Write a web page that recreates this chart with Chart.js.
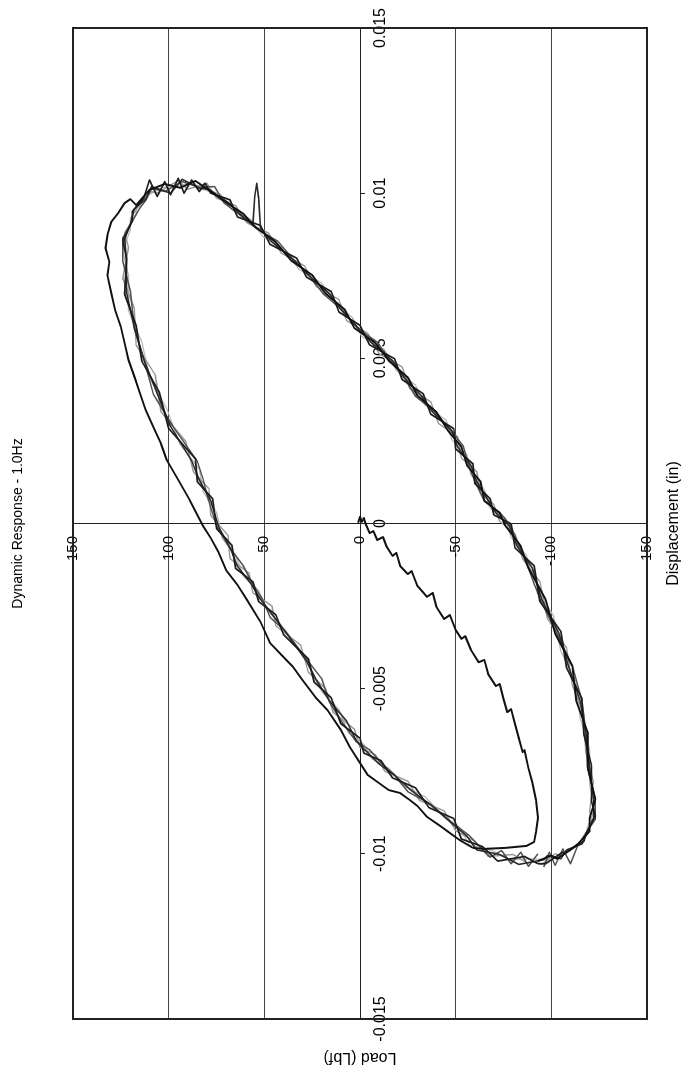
<!DOCTYPE html>
<html>
<head>
<meta charset="utf-8">
<script src="https://cdn.jsdelivr.net/npm/chart.js@4.4.1/dist/chart.umd.min.js"></script>
<style>
html,body{margin:0;padding:0;background:#fff;overflow:hidden;width:684px;height:1071px;}
#wrap{position:absolute;left:0;top:0;width:1071px;height:684px;transform-origin:0 0;transform:translate(0px,1071px) rotate(-90deg);background:#fff;}
canvas{display:block;}
</style>
</head>
<body>
<div id="wrap"><canvas id="c" width="1071" height="684"></canvas></div>
<script>
// ---------- tick values / labels ----------
const dispTicks = [-0.015, -0.01, -0.005, 0, 0.005, 0.01, 0.015];
const dispTickLabels = ['-0.015', '-0.01', '-0.005', '0', '0.005', '0.01', '0.015'];
const loadTicks = [-150, -100, -50, 0, 50, 100, 150];
const loadTickLabels = ['-150', '-100', '-50', '0', '50', '100', '150'];

// ---------- initial ramp from rest ----------
const rampDisp = [0.00002,0.00020,0.00005,0.00017,-0.00002,-0.00029,-0.00023,-0.00050,-0.00041,-0.00071,
  -0.00098,-0.00089,-0.00129,-0.00153,-0.00144,-0.00189,-0.00222,-0.00210,-0.00253,-0.00289,
  -0.00277,-0.00322,-0.00349,-0.00341,-0.00383,-0.00420,-0.00413,-0.00456,-0.00492,-0.00486,
  -0.00531,-0.00571,-0.00562,-0.00607,-0.00649,-0.00692,-0.00686,-0.00740,-0.00783,-0.00837,
  -0.00891,-0.00934,-0.00964,-0.00976,-0.00982,-0.00985,-0.00982];
const rampLoad = [1,0,-1,-2,-3,-5,-7,-9,-12,-14,
  -17,-19,-21,-25,-27,-30,-35,-38,-40,-44,
  -47,-50,-53,-55,-58,-62,-65,-67,-71,-73,
  -75,-77,-79,-81,-83,-85,-86,-88,-90,-92,
  -93,-92,-91,-87,-76,-65,-59];

// ---------- cycle 1 ----------
const cycle1Disp = [-0.00982,-0.00958,-0.00937,-0.00916,-0.00888,-0.00855,-0.00837,-0.00816,-0.00807,-0.00782,
  -0.00761,-0.00716,-0.00680,-0.00625,-0.00565,-0.00528,-0.00474,-0.00434,-0.00398,-0.00362,
  -0.00298,-0.00232,-0.00186,-0.00141,-0.00086,-0.00044,-0.00008,0.00071,0.00132,0.00192,
  0.00241,0.00292,0.00344,0.00395,0.00446,0.00495,0.00546,0.00595,0.00646,0.00698,
  0.00752,0.00792,0.00834,0.00873,0.00913,0.00943,0.00970,0.00982,0.00964,0.01010,
  0.01028,0.01016,0.01037,0.01009,
  0.00972,0.00938,0.00899,0.00852,0.00796,0.00752,0.00696,0.00648,0.00592,0.00547,
  0.00493,0.00442,0.00387,0.00337,0.00281,0.00232,0.00175,0.00127,0.00069,0.00032,
  -0.00007,-0.00068,-0.00134,-0.00230,-0.00333,-0.00432,-0.00536,-0.00632,-0.00739,-0.00835,
  -0.00892,-0.00932,-0.00970,-0.00988,-0.01015,-0.01005,-0.01022];
const cycle1Load = [-59,-52,-47,-42,-35,-30,-26,-21,-15,-9,
  -4,1,5,10,17,23,30,35,41,47,
  52,59,64,70,74,78,82,89,95,101,
  104,108,112,115,118,121,123,125,128,130,
  132,131,133,132,130,126,123,120,117,110,
  102,94,86,79,
  70,61,55,44,36,25,18,8,3,-8,
  -15,-25,-30,-40,-46,-53,-56,-63,-65,-73,
  -76,-84,-88,-97,-102,-111,-113,-119,-119,-123,
  -120,-120,-114,-110,-103,-100,-93];

// ---------- cycle 2 ----------
const cycle2Disp = [-0.01030,-0.01008,-0.01022,-0.00978,-0.00955,-0.00893,-0.00860,-0.00800,-0.00770,-0.00718,
  -0.00695,-0.00650,-0.00606,-0.00528,-0.00480,-0.00410,-0.00336,-0.00276,-0.00236,-0.00176,
  -0.00136,-0.00066,-0.00015,0.00075,0.00126,0.00196,0.00288,0.00399,0.00491,0.00599,
  0.00694,0.00802,0.00856,0.00915,0.00945,
  0.00985,0.01040,0.00990,0.01035,0.00995,0.01045,0.01000,0.01040,0.01005,0.01030,0.01000,
  0.00980,0.00928,0.00902,0.00845,0.00803,0.00746,0.00702,0.00640,0.00600,0.00541,
  0.00499,0.00436,0.00393,0.00331,0.00287,0.00226,0.00181,0.00121,0.00075,0.00026,
  -0.00001,-0.00074,-0.00128,-0.00236,-0.00327,-0.00438,-0.00530,-0.00638,-0.00733,-0.00841,
  -0.00886,-0.00940,-0.00962,-0.00998,-0.00995,-0.01030,-0.01030];
const cycle2Load = [-93,-86,-72,-64,-53,-49,-36,-29,-17,-11,
  -2,0,10,15,24,27,40,44,53,56,
  65,67,75,77,85,86,100,105,114,117,
  123,122,124,119,119,
  113,110,106,102,99,95,92,88,84,81,78,
  68,64,52,47,33,28,15,11,0,-5,
  -18,-22,-33,-37,-49,-50,-59,-60,-68,-70,
  -79,-81,-91,-94,-105,-108,-116,-117,-121,-121,
  -123,-118,-117,-107,-106,-97,-93];

// ---------- cycle 3 ----------
const cycle3Disp = [-0.01000,-0.01038,-0.00995,-0.01030,-0.00990,-0.01010,-0.00980,
  -0.00944,-0.00905,-0.00850,-0.00812,-0.00760,-0.00731,
  -0.00685,-0.00660,-0.00596,-0.00540,-0.00470,-0.00418,-0.00326,-0.00284,-0.00228,-0.00185,
  -0.00128,-0.00075,-0.00007,0.00067,0.00134,0.00188,0.00296,0.00391,0.00499,0.00591,
  0.00702,0.00794,0.00864,0.00905,0.00955,0.00978,0.01015,0.01005,0.01035,0.01018,
  0.01020,
  0.00970,0.00940,0.00892,0.00855,0.00793,0.00754,0.00694,0.00650,0.00590,0.00549,
  0.00491,0.00444,0.00385,0.00339,0.00279,0.00234,0.00173,0.00129,0.00067,0.00034,
  -0.00009,-0.00066,-0.00136,-0.00228,-0.00335,-0.00430,-0.00538,-0.00630,-0.00741,-0.00833,
  -0.00895,-0.00930,
  -0.00972,-0.01030,-0.00985,-0.01035,-0.00995,-0.01040];
const cycle3Load = [-93,-88,-84,-79,-74,-68,-63,
  -57,-48,-37,-25,-18,-12,
  -5,2,10,16,20,27,39,47,51,56,
  61,68,75,79,82,85,98,108,113,118,
  120,124,124,120,115,112,109,102,93,84,
  76,
  71,64,54,43,34,27,19,10,1,-9,
  -16,-23,-29,-39,-48,-54,-57,-60,-65,-73,
  -79,-83,-88,-94,-103,-111,-116,-118,-119,-123,
  -123,-119,
  -114,-110,-106,-102,-99,-96];

// ---------- cycle 4 ----------
const cycle4Disp = [-0.01030,-0.01002,-0.01008,-0.00962,-0.00930,-0.00870,-0.00838,-0.00780,-0.00750,-0.00700,
  -0.00678,-0.00622,-0.00572,-0.00500,-0.00450,-0.00368,-0.00310,-0.00250,-0.00210,-0.00150,
  -0.00106,-0.00036,0.00024,0.00106,0.00156,0.00248,0.00338,0.00450,0.00540,0.00652,
  0.00742,0.00835,0.00880,0.00936,0.00960,0.01005,0.01000,0.01038,0.01012,0.01030,
  0.00985,0.00962,0.00910,0.00880,0.00818,0.00780,0.00718,0.00678,0.00614,0.00576,
  0.00514,0.00474,0.00409,0.00368,0.00303,0.00263,0.00198,0.00157,0.00092,0.00057,
  0.00007,-0.00032,-0.00107,-0.00176,-0.00288,-0.00377,-0.00490,-0.00578,-0.00692,-0.00781,
  -0.00870,-0.00907,-0.00957,-0.00973,-0.01005,-0.01000,-0.01032,-0.01020];
const cycle4Load = [-88,-80,-67,-60,-50,-44,-31,-25,-13,-8,
  0,3,14,18,27,31,44,46,56,58,
  68,69,78,79,87,91,104,107,117,118,
  124,121,123,117,117,109,106,95,90,80,
  75,65,59,48,41,29,23,11,7,-4,
  -10,-22,-26,-37,-41,-51,-53,-61,-63,-70,
  -73,-81,-85,-94,-98,-108,-111,-117,-118,-122,
  -120,-121,-116,-113,-105,-102,-95,-89];

// ---------- cycle 5 ----------
const cycle5Disp = [-0.01018,-0.01032,-0.01002,-0.00988,-0.00947,-0.00903,-0.00852,-0.00809,-0.00762,-0.00728,
  -0.00688,-0.00658,-0.00598,-0.00537,-0.00472,-0.00416,-0.00328,-0.00282,-0.00230,-0.00182,
  -0.00130,-0.00072,-0.00009,0.00069,0.00132,0.00190,0.00294,0.00393,0.00497,0.00593,
  0.00700,0.00796,0.00862,0.00908,0.00952,0.00982,0.01020,0.01000,0.01042,0.01015,
  0.01012,
  0.00972,0.00938,0.00905,0.00990,0.01030,0.00985,0.00895,0.00852,0.00795,0.00752,
  0.00696,0.00648,0.00592,0.00547,0.00493,0.00442,0.00387,0.00337,0.00281,0.00232,
  0.00175,0.00127,0.00069,0.00032,-0.00007,-0.00068,-0.00134,-0.00230,-0.00333,-0.00432,
  -0.00536,-0.00632,-0.00739,-0.00835,-0.00892,-0.00932,-0.00970,-0.00988,-0.01015,-0.01005,
  -0.01018];
const cycle5Load = [-96,-83,-73,-61,-56,-47,-37,-27,-18,-10,
  -3,2,7,16,23,28,39,45,52,57,
  64,68,74,78,84,88,99,106,113,118,
  122,122,123,120,118,112,109,99,93,84,
  79,
  69,63,56,55,54,53,52,46,34,27,
  16,10,1,-6,-17,-23,-32,-38,-48,-51,
  -58,-61,-67,-71,-78,-82,-90,-95,-104,-109,
  -115,-118,-120,-122,-122,-119,-116,-108,-105,-98,
  -96];

// ---------- cycle 6 ----------
const cycle6Disp = [-0.01015,-0.01018,-0.00990,-0.00972,-0.00920,-0.00882,-0.00827,-0.00792,-0.00741,-0.00712,
  -0.00669,-0.00634,-0.00563,-0.00509,-0.00440,-0.00378,-0.00302,-0.00260,-0.00202,-0.00160,
  -0.00097,-0.00045,0.00034,0.00097,0.00165,0.00238,0.00348,0.00441,0.00549,0.00643,
  0.00752,0.00825,0.00890,0.00926,0.00972,0.00990,0.01018,0.01018,0.01032,0.01012,
  0.00998,0.00950,0.00920,0.00870,0.00828,0.00770,0.00728,0.00668,0.00624,0.00566,
  0.00524,0.00464,0.00419,0.00358,0.00313,0.00253,0.00208,0.00147,0.00102,0.00047,
  0.00017,-0.00042,-0.00097,-0.00186,-0.00278,-0.00387,-0.00480,-0.00588,-0.00682,-0.00791,
  -0.00860,-0.00917,-0.00947,-0.00983,-0.00993,-0.01016,-0.01018,-0.01015];
const cycle6Load = [-90,-78,-69,-57,-52,-43,-34,-22,-15,-6,
  -2,6,11,20,26,32,42,49,53,61,
  65,72,75,82,84,94,101,110,114,121,
  121,124,120,120,114,112,103,97,87,83,
  73,67,57,51,39,32,20,14,4,-1,
  -13,-19,-29,-34,-45,-48,-56,-58,-65,-68,
  -76,-79,-87,-91,-101,-105,-113,-115,-120,-120,
  -123,-119,-118,-111,-108,-100,-98,-90];

// ---------- build ----------
const FONT = "'Liberation Sans', Arial, Helvetica, sans-serif";
Chart.defaults.font.family = FONT;
Chart.defaults.color = '#000';

function pts(ds, ls) {
  const n = Math.min(ds.length, ls.length);
  const out = [];
  for (let i = 0; i < n; i++) out.push({x: ds[i], y: ls[i]});
  return out;
}
function series(label, ds, ls, color, width) {
  return {label, data: pts(ds, ls), showLine: true, pointRadius: 0, pointHoverRadius: 0,
    borderColor: color, backgroundColor: color, borderWidth: width, tension: 0, fill: false,
    xAxisID: 'x', yAxisID: 'y', borderJoinStyle: 'round'};
}

const framePlugin = {
  id: 'frame',
  afterDatasetsDraw(chart) {
    const {ctx, chartArea: a} = chart;
    ctx.save();
    ctx.strokeStyle = '#222';
    ctx.lineWidth = 2;
    ctx.strokeRect(a.left, a.top, a.right - a.left, a.bottom - a.top);
    ctx.restore();
  }
};

const hiddenAxis = (pos) => ({
  type: 'linear', position: pos, min: 0, max: 1,
  ticks: {display: false},
  grid: {display: false, drawTicks: false},
  border: {display: false}
});

new Chart(document.getElementById('c'), {
  type: 'scatter',
  data: {
    datasets: [
      series('Ramp', rampDisp, rampLoad, '#111', 2.0),
      series('Cycle 1', cycle1Disp, cycle1Load, '#111', 1.9),
      series('Cycle 2', cycle2Disp, cycle2Load, '#1c1c1c', 1.7),
      series('Cycle 5', cycle5Disp, cycle5Load, '#2a2a2a', 1.6),
      series('Cycle 3', cycle3Disp, cycle3Load, '#505050', 1.5),
      series('Cycle 4', cycle4Disp, cycle4Load, '#969696', 1.4),
      series('Cycle 6', cycle6Disp, cycle6Load, '#b8b8b8', 1.3)
    ]
  },
  options: {
    responsive: false,
    animation: false,
    devicePixelRatio: 1,
    layout: {padding: {top: 0, right: 28, bottom: 0, left: 0}},
    plugins: {
      legend: {display: false},
      tooltip: {enabled: false},
      title: {display: false}
    },
    scales: {
      x: {
        type: 'linear',
        position: {y: 0},
        min: -0.015, max: 0.015,
        afterFit(s) { s.height = 0; },
        afterBuildTicks(s) { s.ticks = dispTicks.map(v => ({value: v})); },
        ticks: {
          callback: (v, i) => dispTickLabels[i],
          font: {size: 16, family: FONT},
          color: '#000',
          padding: 7,
          autoSkip: false,
          maxRotation: 0
        },
        grid: {drawOnChartArea: false, drawTicks: true, tickLength: 4, color: '#222', lineWidth: 1},
        border: {display: true, color: '#222', width: 1}
      },
      y: {
        type: 'linear',
        position: {x: 0},
        min: -150, max: 150,
        afterFit(s) { s.width = 0; },
        afterBuildTicks(s) { s.ticks = loadTicks.map(v => ({value: v})); },
        ticks: {
          callback: (v, i) => loadTickLabels[i] + '   ',
          font: {size: 15, family: FONT},
          color: '#000',
          autoSkip: false
        },
        grid: {drawOnChartArea: true, drawTicks: false, color: '#444', lineWidth: 1},
        border: {display: true, color: '#222', width: 1}
      },
      xTitleTop: Object.assign(hiddenAxis('top'), {
        title: {display: true, text: 'Dynamic Response - 1.0Hz', color: '#000',
          font: {size: 14, family: FONT}, padding: {top: 9.6, bottom: 46.6}}
      }),
      x2: Object.assign(hiddenAxis('bottom'), {
        title: {display: true, text: 'Displacement (in)', color: '#000',
          font: {size: 16, family: FONT}, padding: {top: 16.8, bottom: 1}}
      }),
      y2: Object.assign(hiddenAxis('left'), {
        title: {display: true, text: 'Load (Lbf)', color: '#000',
          font: {size: 16, family: FONT}, padding: {top: 3.9, bottom: 28.9}}
      })
    }
  },
  plugins: [framePlugin]
});
</script>
</body>
</html>
